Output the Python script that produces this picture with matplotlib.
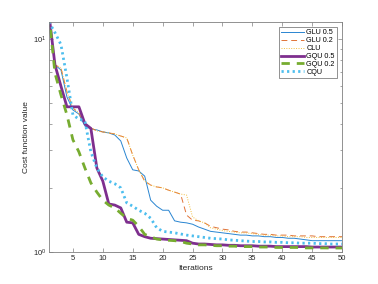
import numpy as np
import matplotlib.pyplot as plt
from matplotlib.ticker import LogLocator, NullFormatter, FixedLocator

plt.rcParams['font.family'] = ['Liberation Sans', 'DejaVu Sans']

# iteration index 1..50
iters = np.arange(1, 51)

# values (log scale)
glu05 = [13, 7.55, 7.15, 5.34, 4.64, 4.44, 3.9, 3.78, 3.74, 3.66,
         3.62, 3.54, 3.32, 2.76, 2.43, 2.40, 2.27, 1.75, 1.64, 1.57,
         1.57, 1.40, 1.38, 1.37, 1.35, 1.31, 1.28, 1.25, 1.24, 1.23,
         1.22, 1.21, 1.20, 1.20, 1.19, 1.19, 1.18, 1.18, 1.17, 1.17,
         1.16, 1.16, 1.15, 1.14, 1.13, 1.13, 1.13, 1.13, 1.13, 1.13]
glu02 = [13, 7.55, 7.31, 5.64, 4.74, 4.49, 3.99, 3.82, 3.70, 3.66,
         3.62, 3.58, 3.50, 3.43, 2.85, 2.43, 2.15, 2.06, 2.02, 2.00,
         1.95, 1.91, 1.87, 1.49, 1.41, 1.40, 1.37, 1.32, 1.30, 1.28,
         1.27, 1.25, 1.24, 1.24, 1.23, 1.22, 1.21, 1.21, 1.20, 1.20,
         1.20, 1.19, 1.19, 1.19, 1.19, 1.18, 1.18, 1.18, 1.18, 1.18]
clu = [13, 7.55, 7.31, 5.64, 4.74, 4.49, 3.99, 3.82, 3.70, 3.66,
       3.62, 3.58, 3.50, 3.43, 2.85, 2.43, 2.15, 2.06, 2.02, 2.00,
       1.95, 1.91, 1.87, 1.85, 1.46, 1.40, 1.37, 1.30, 1.28, 1.26,
       1.25, 1.24, 1.23, 1.23, 1.22, 1.21, 1.20, 1.20, 1.19, 1.19,
       1.18, 1.18, 1.18, 1.17, 1.17, 1.17, 1.17, 1.17, 1.17, 1.17]
gqu05 = [13, 7.55, 6.0, 4.8, 4.8, 4.8, 4.0, 3.8, 2.48, 2.15,
         1.68, 1.66, 1.61, 1.38, 1.37, 1.21, 1.18, 1.16, 1.155, 1.15,
         1.145, 1.14, 1.135, 1.13, 1.10, 1.09, 1.09, 1.085, 1.08, 1.08,
         1.075, 1.075, 1.07, 1.07, 1.07, 1.065, 1.065, 1.065, 1.06, 1.06,
         1.06, 1.06, 1.06, 1.06, 1.055, 1.055, 1.055, 1.055, 1.055, 1.055]
gqu02 = [13, 6.9, 5.46, 4.4, 3.36, 2.95, 2.48, 2.11, 1.91, 1.75,
         1.66, 1.61, 1.52, 1.44, 1.41, 1.32, 1.21, 1.18, 1.15, 1.14,
         1.135, 1.13, 1.12, 1.10, 1.09, 1.08, 1.08, 1.075, 1.07, 1.07,
         1.065, 1.065, 1.06, 1.06, 1.06, 1.055, 1.055, 1.055, 1.05, 1.05,
         1.05, 1.05, 1.05, 1.045, 1.045, 1.045, 1.045, 1.044, 1.044, 1.044]
cqu = [12, 10.7, 9.4, 6.56, 4.4, 4.2, 4.12, 2.95, 2.48, 2.25,
       2.15, 2.09, 2.0, 1.70, 1.64, 1.57, 1.52, 1.44, 1.30, 1.25,
       1.24, 1.23, 1.215, 1.20, 1.19, 1.18, 1.17, 1.16, 1.155, 1.15,
       1.14, 1.135, 1.13, 1.125, 1.12, 1.12, 1.115, 1.115, 1.11, 1.11,
       1.105, 1.105, 1.10, 1.10, 1.10, 1.095, 1.095, 1.09, 1.09, 1.09]

xticks = [5, 10, 15, 20, 25, 30, 35, 40, 45, 50]

c_blue = (0.16, 0.52, 0.82)
c_orange = (0.88, 0.45, 0.22)
c_yellow = (0.95, 0.75, 0.25)
c_purple = (0.494, 0.184, 0.556)
c_green = (0.466, 0.674, 0.188)
c_cyan = (0.301, 0.745, 0.933)

fig = plt.figure(figsize=(3.78, 2.84), dpi=100)
ax = fig.add_axes([0.1296, 0.1127, 0.7754, 0.8098])

ax.plot(iters, glu05, color=c_blue, lw=0.7, label='GLU 0.5')
ax.plot(iters, glu02, color=c_orange, lw=0.7, ls=(0, (6, 4)), label='GLU 0.2')
ax.plot(iters, clu, color=c_yellow, lw=0.7, ls=(0, (1, 1.5)), label='CLU')
ax.plot(iters, gqu05, color=c_purple, lw=2.0, label='GQU 0.5')
ax.plot(iters, gqu02, color=c_green, lw=2.0, ls=(0, (3, 2.5)), label='GQU 0.2')
ax.plot(iters, cqu, color=c_cyan, lw=2.0, ls=(0, (0.8, 1.2)), label='CQU')

ax.set_yscale('log')
ax.set_xlim(1, 50)
ax.set_ylim(1, 12)
ax.xaxis.set_major_locator(FixedLocator(xticks))
ax.yaxis.set_major_locator(LogLocator(base=10))
ax.yaxis.set_minor_locator(LogLocator(base=10, subs=np.arange(2, 10)))
ax.yaxis.set_minor_formatter(NullFormatter())

gray = '#262626'
for s in ax.spines.values():
    s.set_color('#808080')
    s.set_linewidth(0.6)
ax.tick_params(which='both', direction='in', top=True, right=True,
               colors='#808080', labelcolor=gray, labelsize=5.5, width=0.5)
ax.tick_params(which='major', length=3, pad=2)
ax.tick_params(which='minor', length=1.8)

ax.set_xlabel('Iterations', fontsize=6, color=gray, labelpad=2)
ax.set_ylabel('Cost function value', fontsize=6, color=gray, labelpad=2)

leg = ax.legend(loc='upper right', fontsize=5.2, frameon=True, fancybox=False,
                edgecolor='#404040', handlelength=3.2, handletextpad=0.3,
                borderpad=0.3, labelspacing=0.12, borderaxespad=0.7)
leg.get_frame().set_linewidth(0.5)

fig.savefig('out.png', dpi=100)
